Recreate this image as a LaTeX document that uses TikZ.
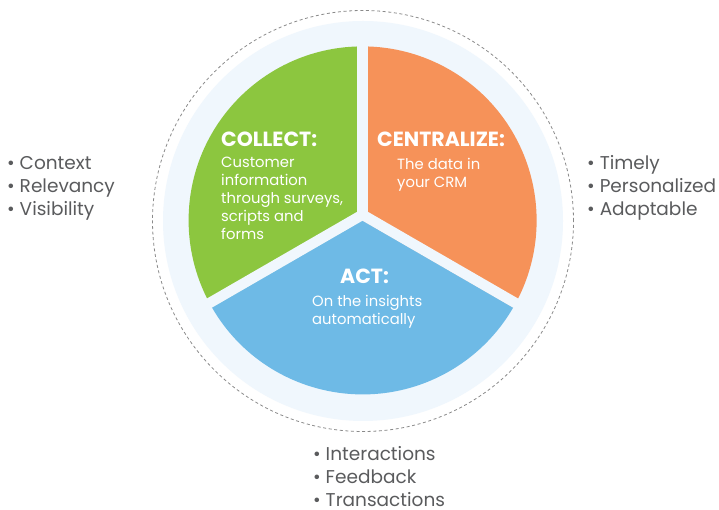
\documentclass[tikz,border=0pt]{standalone}
\usepackage{fontspec}
\setmainfont{Poppins}
\usetikzlibrary{calc}
\definecolor{cgreen}{HTML}{8CC63F}
\definecolor{corange}{HTML}{F69259}
\definecolor{cblue}{HTML}{6EBAE6}
\definecolor{cring}{HTML}{F0F7FD}
\definecolor{cgray}{HTML}{5A5B5D}
\definecolor{cdash}{HTML}{8A8A8A}
\tikzset{
  title/.style={text=white,inner sep=0pt,font=\fontsize{20.5}{22}\selectfont\bfseries},
  body/.style={text=white,inner sep=0pt,align=left,font=\fontsize{14.8}{18}\selectfont},
  blist/.style={text=cgray,inner sep=0pt,align=left,font=\fontsize{18.5}{23}\selectfont,anchor=base west},
  gap/.style={cring,line width=10.4pt},
}
\begin{document}
\begin{tikzpicture}[x=1pt,y=1pt]
\useasboundingbox (0,0) rectangle (719,510);
\fill[white] (0,0) rectangle (719,510);
\coordinate (oc) at (363,289);
\coordinate (pc) at (362.6,289.6);
\coordinate (gc) at (362.5,295.3);
% ring and dashed outline
\fill[cring] (oc) circle[radius=200];
\draw[cdash,line width=0.8pt,dash pattern=on 3pt off 2.6pt] (oc) circle[radius=210.5];
% sectors
\fill[cgreen] (pc) -- +(90:174) arc[start angle=90,end angle=210,radius=174] -- cycle;
\fill[cblue] (pc) -- +(210:174) arc[start angle=210,end angle=330,radius=174] -- cycle;
\fill[corange] (pc) -- +(-30:174) arc[start angle=-30,end angle=90,radius=174] -- cycle;
% gaps
\coordinate (g1) at ($(gc)+(90:182)$);
\coordinate (g2) at ($(gc)+(210:182)$);
\coordinate (g3) at ($(gc)+(330:182)$);
\draw[gap] (gc) -- (g1);
\draw[gap] (gc) -- (g2);
\draw[gap] (gc) -- (g3);
% texts in sectors (base anchor = last line)
\node[title,anchor=base west] (tcol) at (221,363) {COLLECT:};
\node[body,anchor=base west] (bcol) at (221,270.7) {Customer\\information\\through surveys,\\scripts and\\forms};
\node[title,anchor=base west] (tcen) at (377,363) {CENTRALIZE:};
\node[body,anchor=base west] (bcen) at (397,322.7) {The data in\\your CRM};
\node[title,anchor=base] (tact) at (364.5,226) {ACT:};
\node[body,anchor=base west] (bact) at (312,185) {On the insights\\automatically};
% bullet lists
\node[blist] (lleft) at (7,294) {• Context\\• Relevancy\\• Visibility};
\node[blist] (lright) at (587,294) {• Timely\\• Personalized\\• Adaptable};
\node[blist] (lbot) at (313,3.5) {• Interactions\\• Feedback\\• Transactions};
\end{tikzpicture}
\end{document}
